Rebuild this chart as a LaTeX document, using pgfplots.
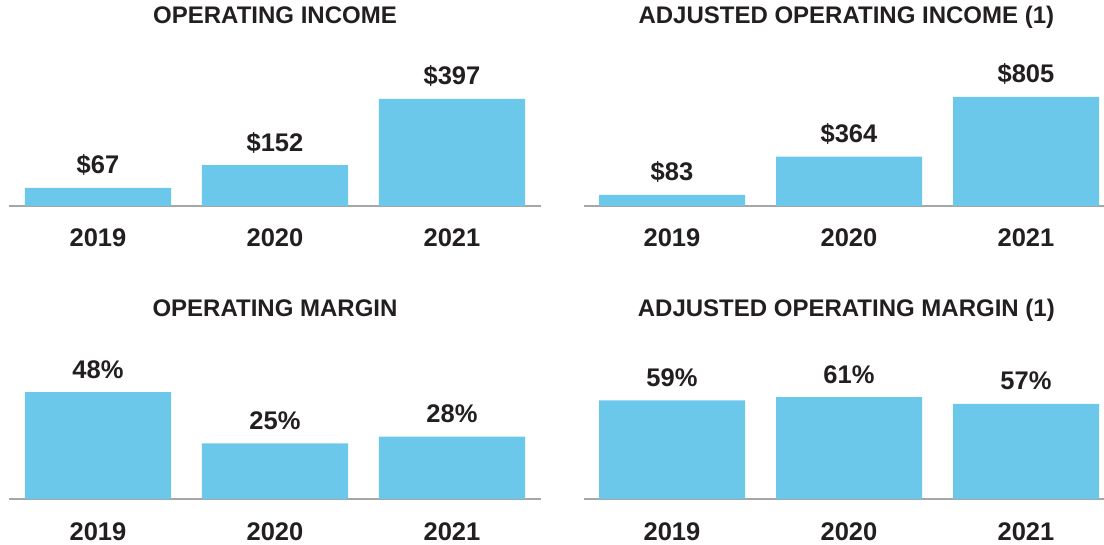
\documentclass[border=0pt]{standalone}
\usepackage{fontspec}
\setmainfont{Liberation Sans}
\usepackage{pgfplots}
\pgfplotsset{compat=1.18}
\definecolor{barblue}{HTML}{6CC8EB}
\definecolor{axisgray}{HTML}{A6A6A6}
\definecolor{txt}{HTML}{231F20}
\pgfplotsset{
  panel/.style={
    scale only axis, height=146pt, ymin=0, clip=false,
    anchor=south west,
    axis x line=bottom, axis y line=none,
    x axis line style={-, draw=axisgray, line width=2pt},
    xmin=-0.5, xtick={0,1,2}, xticklabels={2019,2020,2021},
    major tick length=0pt,
    xticklabel style={anchor=base, yshift=-41pt, font=\fontsize{25.5}{30}\selectfont\bfseries, text=txt},
    ybar, bar width=146pt,
    nodes near coords, point meta=explicit symbolic,
    every node near coord/.append style={anchor=base, yshift=14pt, font=\fontsize{25.5}{30}\selectfont\bfseries, text=txt},
    title style={anchor=base, yshift=30pt, font=\fontsize{24}{28}\selectfont\bfseries, text=txt},
  },
  leftpanel/.style={panel, width=531pt, xmax=2.5, title style={at={(0.5,1)}}},
  rightpanel/.style={panel, width=520.5pt, xmax=2.4407, title style={at={(0.505,1)}}},
}
\begin{document}
\begin{tikzpicture}
\useasboundingbox (0pt,0pt) rectangle (1104pt,544pt);

\begin{axis}[leftpanel, at={(9.5pt,338pt)}, ymax=541.7, title={OPERATING INCOME}]
\addplot[fill=barblue, draw=none] coordinates {(0,67) [\$67] (1,152) [\$152] (2,397) [\$397]};
\end{axis}

\begin{axis}[rightpanel, at={(583.5pt,338pt)}, ymax=1078, title={ADJUSTED OPERATING INCOME (1)}]
\addplot[fill=barblue, draw=none] coordinates {(0,83) [\$83] (1,364) [\$364] (2,805) [\$805]};
\end{axis}

\begin{axis}[leftpanel, at={(9.5pt,45pt)}, ymax=65.5, title={OPERATING MARGIN}]
\addplot[fill=barblue, draw=none] coordinates {(0,48) [48\%] (1,25) [25\%] (2,28) [28\%]};
\end{axis}

\begin{axis}[rightpanel, at={(583.5pt,45pt)}, ymax=87.4, title={ADJUSTED OPERATING MARGIN (1)}]
\addplot[fill=barblue, draw=none] coordinates {(0,59) [59\%] (1,61) [61\%] (2,57) [57\%]};
\end{axis}
\end{tikzpicture}
\end{document}
